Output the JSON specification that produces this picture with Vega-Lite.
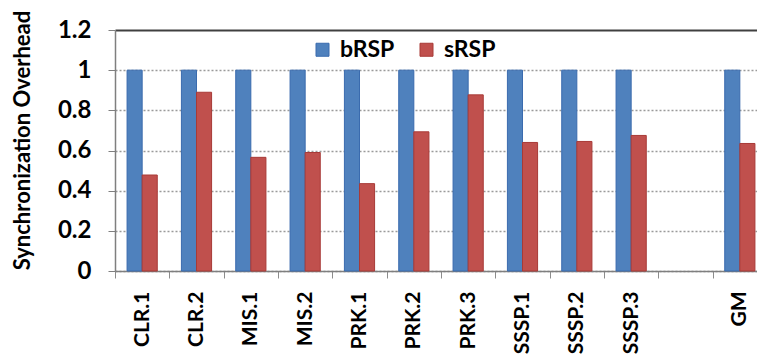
{
  "$schema": "https://vega.github.io/schema/vega-lite/v6.json",
  "autosize": {"type": "none"},
  "padding": {"left": 115, "top": 30, "right": 0, "bottom": 85},
  "width": 642,
  "height": 241,
  "background": "white",
  "config": {
    "font": "Lato",
    "view": {"stroke": null},
    "axis": {"labelFont": "Lato", "titleFont": "Lato", "labelFontWeight": "bold", "titleFontWeight": "bold", "labelColor": "black", "titleColor": "black"}
  },
  "data": {
    "values": [
      {"cat": "CLR.1", "series": "bRSP", "value": 1.0},
      {"cat": "CLR.1", "series": "sRSP", "value": 0.478},
      {"cat": "CLR.2", "series": "bRSP", "value": 1.0},
      {"cat": "CLR.2", "series": "sRSP", "value": 0.89},
      {"cat": "MIS.1", "series": "bRSP", "value": 1.0},
      {"cat": "MIS.1", "series": "sRSP", "value": 0.566},
      {"cat": "MIS.2", "series": "bRSP", "value": 1.0},
      {"cat": "MIS.2", "series": "sRSP", "value": 0.59},
      {"cat": "PRK.1", "series": "bRSP", "value": 1.0},
      {"cat": "PRK.1", "series": "sRSP", "value": 0.435},
      {"cat": "PRK.2", "series": "bRSP", "value": 1.0},
      {"cat": "PRK.2", "series": "sRSP", "value": 0.693},
      {"cat": "PRK.3", "series": "bRSP", "value": 1.0},
      {"cat": "PRK.3", "series": "sRSP", "value": 0.877},
      {"cat": "SSSP.1", "series": "bRSP", "value": 1.0},
      {"cat": "SSSP.1", "series": "sRSP", "value": 0.64},
      {"cat": "SSSP.2", "series": "bRSP", "value": 1.0},
      {"cat": "SSSP.2", "series": "sRSP", "value": 0.645},
      {"cat": "SSSP.3", "series": "bRSP", "value": 1.0},
      {"cat": "SSSP.3", "series": "sRSP", "value": 0.675},
      {"cat": "GM", "series": "bRSP", "value": 1.0},
      {"cat": "GM", "series": "sRSP", "value": 0.635}
    ]
  },
  "mark": {"type": "bar", "strokeWidth": 1},
  "encoding": {
    "x": {
      "field": "cat",
      "type": "nominal",
      "scale": {
        "domain": ["CLR.1", "CLR.2", "MIS.1", "MIS.2", "PRK.1", "PRK.2", "PRK.3", "SSSP.1", "SSSP.2", "SSSP.3", " ", "GM"],
        "range": [0, 652],
        "paddingInner": 0,
        "paddingOuter": 0
      },
      "axis": {
        "title": null,
        "labelAngle": -90,
        "labelAlign": "right",
        "labelBaseline": "middle",
        "labelFontSize": 21,
        "labelPadding": 13,
        "tickSize": 7,
        "tickBand": "extent",
        "tickColor": "#8c8c8c",
        "domainColor": "#7f7f7f",
        "domainWidth": 1.5,
        "grid": false
      }
    },
    "xOffset": {
      "field": "series",
      "type": "nominal",
      "scale": {"domain": ["bRSP", "sRSP"], "paddingInner": 0, "paddingOuter": 0.8}
    },
    "y": {
      "field": "value",
      "type": "quantitative",
      "scale": {"domain": [0, 1.2], "nice": false, "zero": true},
      "axis": {
        "title": "Synchronization Overhead",
        "titleFontSize": 22,
        "titleX": -93,
        "titleY": 110,
        "titleAngle": -90,
        "titleAlign": "center",
        "titleBaseline": "middle",
        "values": [0, 0.2, 0.4, 0.6, 0.8, 1, 1.2],
        "format": "~g",
        "labelFontSize": 24,
        "labelPadding": 17,
        "tickSize": 7,
        "tickColor": "#7f7f7f",
        "domainColor": "#7f7f7f",
        "domainWidth": 1.5,
        "grid": true,
        "gridColor": {"condition": {"test": "datum.value >= 1.2", "value": "#404040"}, "value": "#9a9a9a"},
        "gridDash": {"condition": {"test": "datum.value >= 1.2", "value": []}, "value": [2, 2]},
        "gridWidth": {"condition": {"test": "datum.value >= 1.2", "value": 2}, "value": 1.5}
      }
    },
    "color": {
      "field": "series",
      "type": "nominal",
      "scale": {"domain": ["bRSP", "sRSP"], "range": ["#4F81BD", "#C0504D"]},
      "legend": {
        "title": null,
        "orient": "none",
        "direction": "horizontal",
        "legendX": 196,
        "legendY": 8,
        "symbolType": "square",
        "symbolSize": 169,
        "symbolStrokeWidth": 1,
        "labelFont": "Lato",
        "labelFontWeight": "bold",
        "labelFontSize": 23,
        "labelColor": "black",
        "labelOffset": 6,
        "columnPadding": 20,
        "padding": 0
      }
    },
    "stroke": {
      "field": "series",
      "type": "nominal",
      "scale": {"domain": ["bRSP", "sRSP"], "range": ["#3A6BAE", "#A83A37"]},
      "legend": null
    }
  }
}
